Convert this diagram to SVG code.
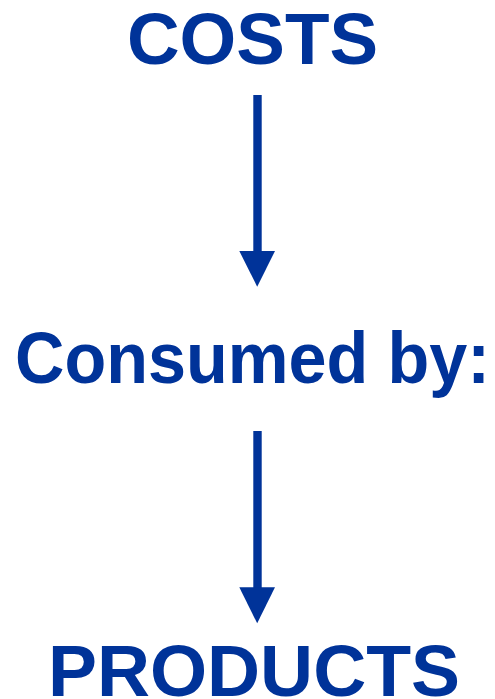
<svg xmlns="http://www.w3.org/2000/svg" width="495" height="699" viewBox="0 0 495 699">
<style>
.t{font-family:"Liberation Sans",Arial,sans-serif;font-weight:bold;font-size:73px;fill:#003399;text-anchor:middle}
.shaft{fill:#003399}
.head{fill:#003399}
</style>
<rect width="495" height="699" fill="#ffffff"/>
<g id="costs"><text class="t" x="252.5" y="64" textLength="251" lengthAdjust="spacingAndGlyphs">COSTS</text></g>
<g id="consumed"><text class="t" x="252.5" y="383" textLength="475" lengthAdjust="spacingAndGlyphs">Consumed by:</text></g>
<g id="products"><text class="t" x="254" y="696" textLength="412" lengthAdjust="spacingAndGlyphs">PRODUCTS</text></g>
<g id="connectors">
<rect class="shaft" x="253.3" y="95" width="8.4" height="157"/>
<polygon class="head" points="239.3,251 275,251 257.2,286.7"/>
<rect class="shaft" x="253.3" y="431" width="8.4" height="157"/>
<polygon class="head" points="239.3,587.3 275,587.3 257.2,623.3"/>
</g>
</svg>
